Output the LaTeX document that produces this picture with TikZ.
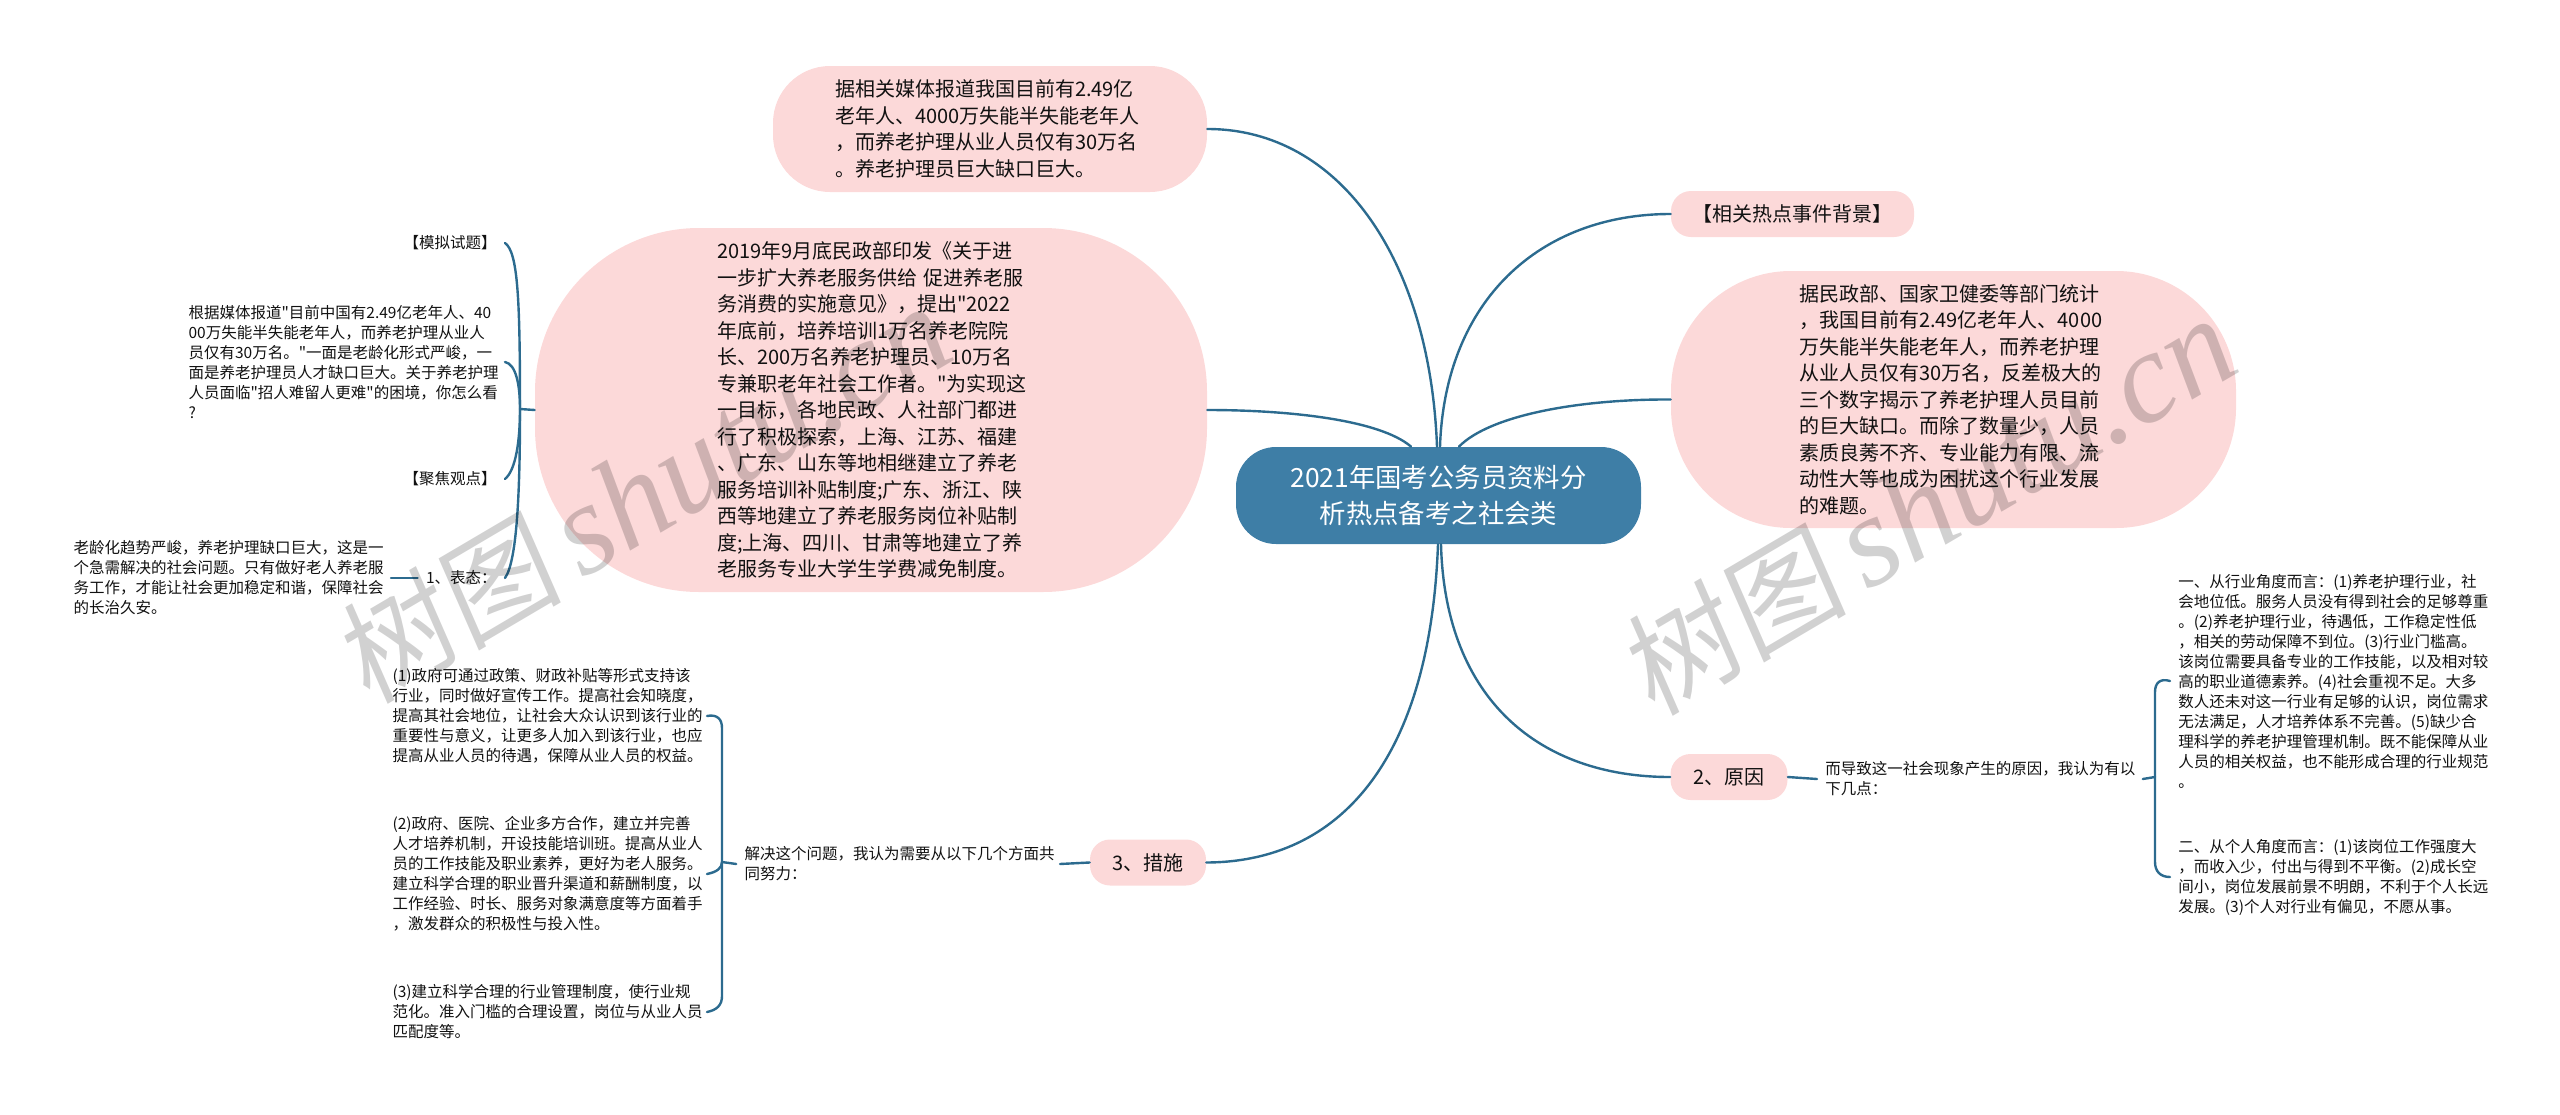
\documentclass[tikz,border=0pt]{standalone}
\usepackage{fontspec}
\newfontfamily\cjkmain{Noto Sans CJK SC}
\newfontfamily\wmcjk[FakeSlant=0.12]{Noto Sans CJK SC}
\newfontfamily\wmlat{Liberation Serif}
\definecolor{linec}{HTML}{2C6B8F}
\definecolor{mainc}{HTML}{3E7EA6}
\definecolor{pinkc}{HTML}{FCD9D9}
\definecolor{inkc}{HTML}{111111}
\tikzset{
  pill/.style={fill=pinkc,inner sep=0pt,text=inkc,font=\cjkmain\fontsize{10pt}{13.25pt}\selectfont,align=left},
  smallpill/.style={pill,minimum height=23pt,rounded corners=10pt,align=center},
  mainnode/.style={fill=mainc,inner sep=0pt,text=white,font=\cjkmain\fontsize{13.2pt}{18pt}\selectfont,align=center,minimum width=202.5pt,minimum height=48.5pt,rounded corners=20pt},
  leaf/.style={inner xsep=4pt,inner ysep=0pt,text=inkc,font=\cjkmain\fontsize{7.75pt}{10pt}\selectfont,align=left},
  conn/.style={draw=linec,line width=1.2pt,line cap=round},
  watermark/.style={text=black,text opacity=0.18,rotate=30.5,inner sep=0pt}
}
\newcommand{\wmtext}{{\wmcjk\fontsize{57pt}{57pt}\selectfont 树图}\hspace{10pt}{\wmlat\itshape\fontsize{65pt}{65pt}\selectfont shutu.cn}}
\begin{document}
\begin{tikzpicture}[x=0.5pt,y=-0.5pt]
\useasboundingbox (0,0) rectangle (2560,1114);
\node[mainnode] (main) at (1438.5,495.5) {2021年国考公务员资料分\\析热点备考之社会类};
\node[pill,minimum width=217pt,minimum height=63pt,rounded corners=28.5pt,text width=155pt] (top) at (990,129) {据相关媒体报道我国目前有2.49亿\\老年人、4000万失能半失能老年人\\，而养老护理从业人员仅有30万名\\。养老护理员巨大缺口巨大。};
\node[pill,minimum width=336pt,minimum height=182pt,rounded corners=82pt,text width=154pt] (bigl) at (871,410) {2019年9月底民政部印发《关于进\\一步扩大养老服务供给 促进养老服\\务消费的实施意见》，提出"2022\\年底前，培养培训1万名养老院院\\长、200万名养老护理员、10万名\\专兼职老年社会工作者。"为实现这\\一目标，各地民政、人社部门都进\\行了积极探索，上海、江苏、福建\\、广东、山东等地相继建立了养老\\服务培训补贴制度;广东、浙江、陕\\西等地建立了养老服务岗位补贴制\\度;上海、四川、甘肃等地建立了养\\老服务专业大学生学费减免制度。};
\node[smallpill,minimum width=121.5pt] (bg) at (1792.5,214) {【相关热点事件背景】};
\node[pill,minimum width=282.5pt,minimum height=128.5pt,rounded corners=60pt,text width=154.5pt] (bigr) at (1953.5,399.5) {据民政部、国家卫健委等部门统计\\，我国目前有2.49亿老年人、4000\\万失能半失能老年人，而养老护理\\从业人员仅有30万名，反差极大的\\三个数字揭示了养老护理人员目前\\的巨大缺口。而除了数量少，人员\\素质良莠不齐、专业能力有限、流\\动性大等也成为困扰这个行业发展\\的难题。};
\node[smallpill,minimum width=58.5pt] (why) at (1729,777) {2、原因};
\node[smallpill,minimum width=58pt] (act) at (1148,862.5) {3、措施};
% right leaves
\node[leaf,anchor=west,text width=154.5pt] (whytxt) at (1817,779) {而导致这一社会现象产生的原因，我认为有以\\下几点：};
\node[leaf,anchor=west,text width=154.5pt] (why1) at (2170,681) {一、从行业角度而言：(1)养老护理行业，社\\会地位低。服务人员没有得到社会的足够尊重\\。(2)养老护理行业，待遇低，工作稳定性低\\，相关的劳动保障不到位。(3)行业门槛高。\\该岗位需要具备专业的工作技能，以及相对较\\高的职业道德素养。(4)社会重视不足。大多\\数人还未对这一行业有足够的认识，岗位需求\\无法满足，人才培养体系不完善。(5)缺少合\\理科学的养老护理管理机制。既不能保障从业\\人员的相关权益，也不能形成合理的行业规范\\。};
\node[leaf,anchor=west,text width=154.5pt] (why2) at (2170,877) {二、从个人角度而言：(1)该岗位工作强度大\\，而收入少，付出与得到不平衡。(2)成长空\\间小，岗位发展前景不明朗，不利于个人长远\\发展。(3)个人对行业有偏见，不愿从事。};
% bottom-left leaves
\node[leaf,anchor=east,text width=153.5pt] (acttxt) at (1060,864) {解决这个问题，我认为需要从以下几个方面共\\同努力：};
\node[leaf,anchor=east,text width=153pt] (act1) at (707,716) {(1)政府可通过政策、财政补贴等形式支持该\\行业，同时做好宣传工作。提高社会知晓度，\\提高其社会地位，让社会大众认识到该行业的\\重要性与意义，让更多人加入到该行业，也应\\提高从业人员的待遇，保障从业人员的权益。};
\node[leaf,anchor=east,text width=153pt] (act2) at (707,874) {(2)政府、医院、企业多方合作，建立并完善\\人才培养机制，开设技能培训班。提高从业人\\员的工作技能及职业素养，更好为老人服务。\\建立科学合理的职业晋升渠道和薪酬制度，以\\工作经验、时长、服务对象满意度等方面着手\\，激发群众的积极性与投入性。};
\node[leaf,anchor=east,text width=153pt] (act3) at (707,1012) {(3)建立科学合理的行业管理制度，使行业规\\范化。准入门槛的合理设置，岗位与从业人员\\匹配度等。};
% left leaves
\node[leaf,anchor=east] (mock) at (505,243) {【模拟试题】};
\node[leaf,anchor=east,text width=154pt] (q) at (505,362) {根据媒体报道"目前中国有2.49亿老年人、40\\00万失能半失能老年人，而养老护理从业人\\员仅有30万名。"一面是老龄化形式严峻，一\\面是养老护理员人才缺口巨大。关于养老护理\\人员面临"招人难留人更难"的困境，你怎么看\\?};
\node[leaf,anchor=east] (focus) at (505,479) {【聚焦观点】};
\node[leaf,anchor=east] (stance) at (505,578) {1、表态：};
\node[leaf,anchor=east,text width=154.5pt] (stxt) at (391,578) {老龄化趋势严峻，养老护理缺口巨大，这是一\\个急需解决的社会问题。只有做好老人养老服\\务工作，才能让社会更加稳定和谐，保障社会\\的长治久安。};
% junctions
\coordinate (jl) at (520,409);
\coordinate (jb) at (722,862);
\coordinate (jr) at (2155,777);
% main branches
\draw[conn] ([xshift=-0.75pt]main.north) .. controls (1430,260) and (1340,129) .. (top.east);
\draw[conn] ([xshift=-13.75pt]main.north) .. controls (1380,420) and (1290,410) .. (bigl.east);
\draw[conn] ([xshift=0.75pt]main.north) .. controls (1445,300) and (1540,214) .. (bg.west);
\draw[conn] ([xshift=10.25pt]main.north) .. controls (1490,415) and (1580,399) .. (bigr.west);
\draw[conn] ([xshift=1.25pt]main.south) .. controls (1445,700) and (1540,777) .. (why.west);
\draw[conn] ([xshift=-0.25pt]main.south) .. controls (1430,760) and (1340,862) .. (act.east);
% right side
\draw[conn] (why.east) -- (whytxt.west);
\draw[conn] (whytxt.east) -- (jr);
\draw[conn] (jr) -- (2155,692) .. controls (2155,683) and (2160,678) .. (why1.west);
\draw[conn] (jr) -- (2155,862) .. controls (2155,871) and (2160,877) .. (why2.west);
% bottom left
\draw[conn] (act.west) -- (acttxt.east);
\draw[conn] (acttxt.west) -- (jb);
\draw[conn] (jb) -- (722,728) .. controls (722,719) and (717,714) .. (act1.east);
\draw[conn] (jb) .. controls (722,868) and (717,872) .. (act2.east);
\draw[conn] (jb) -- (722,996) .. controls (722,1005) and (717,1010) .. (act3.east);
% left side
\draw[conn] (bigl.west) -- (jl);
\draw[conn] (jl) .. controls (520,300) and (518,252) .. (mock.east);
\draw[conn] (jl) .. controls (520,385) and (516,364) .. (q.east);
\draw[conn] (jl) .. controls (520,440) and (516,470) .. (focus.east);
\draw[conn] (jl) .. controls (520,480) and (518,560) .. (stance.east);
\draw[conn] (stance.west) -- (stxt.east);
% watermarks
\node[watermark] (wm1) at (642,494) {\wmtext};
\node[watermark] (wm2) at (1927,506) {\wmtext};
\end{tikzpicture}
\end{document}
